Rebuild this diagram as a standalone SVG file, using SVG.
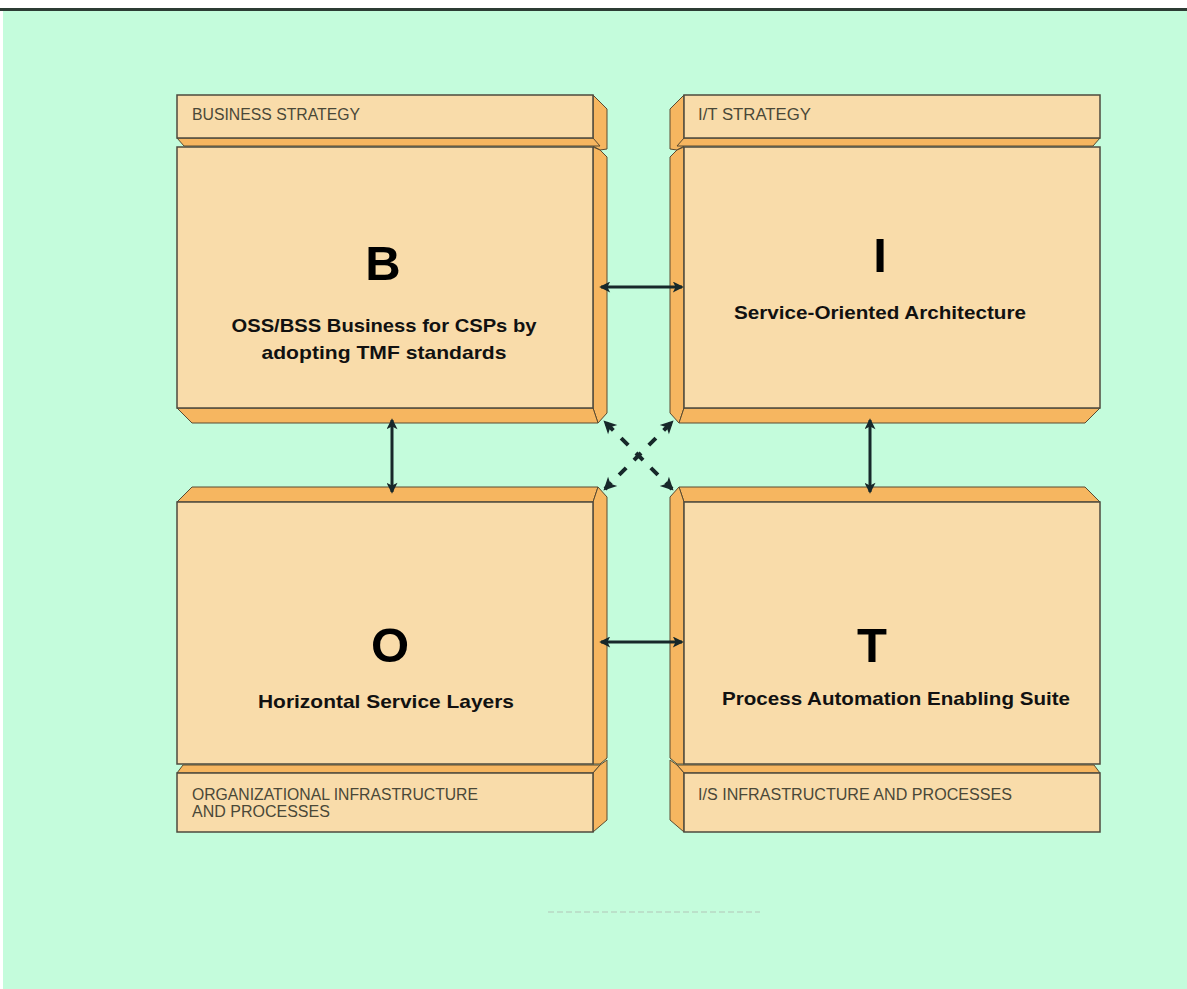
<svg xmlns="http://www.w3.org/2000/svg" width="1187" height="989" viewBox="0 0 1187 989">
<style>
.face{fill:#f9dcaa;stroke:#4d4a3e;stroke-width:1.5}
.side{fill:#f6b660;stroke:#5a4a30;stroke-width:1}
.lbl{font-family:"Liberation Sans",Arial,sans-serif;font-size:16px;fill:#4a4838}
.big{font-family:"Liberation Sans",Arial,sans-serif;font-size:49px;font-weight:bold;fill:#000;text-anchor:middle}
.sub{font-family:"Liberation Sans",Arial,sans-serif;font-size:19px;font-weight:bold;fill:#111;text-anchor:middle}
.arr{stroke:#17282a;stroke-width:3;fill:none;marker-start:url(#ah);marker-end:url(#ah)}
.dash{stroke:#17282a;stroke-width:4;fill:none;stroke-dasharray:10 11;stroke-dashoffset:19.2;marker-start:url(#ah2);marker-end:url(#ah2)}
</style>
<defs>
<marker id="ah" viewBox="0 0 12 12" refX="10" refY="6" markerWidth="12" markerHeight="11" markerUnits="userSpaceOnUse" orient="auto-start-reverse">
<path d="M0,0 L12,6 L0,12 L3,6 z" fill="#17282a"/>
</marker>
<marker id="ah2" viewBox="0 0 12 12" refX="10" refY="6" markerWidth="14" markerHeight="13" markerUnits="userSpaceOnUse" orient="auto-start-reverse">
<path d="M0,0 L12,6 L0,12 L3,6 z" fill="#17282a"/>
</marker>
</defs>
<rect x="0" y="0" width="1187" height="989" fill="#ffffff"/>
<rect x="3" y="10" width="1184" height="979" fill="#c4fcdc"/>
<rect x="0" y="8" width="1187" height="3" fill="#2c3c34"/>
<line x1="548" y1="912" x2="760" y2="912" stroke="#b8d8c4" stroke-width="1.5" stroke-dasharray="6 3"/>

<g id="node-B">
<polygon class="side" points="593,95 607,109 607,149 600,150 593,146"/>
<polygon class="side" points="177,138 593,138 600,146 184,146"/>
<rect class="face" x="177" y="95" width="416" height="43"/>
<polygon class="side" points="593,147 600,150 607,157 607,413 598,423 593,408"/>
<polygon class="side" points="177,408 593,408 598,423 192,423"/>
<rect class="face" x="177" y="147" width="416" height="261"/>
<text class="lbl" x="192" y="120" textLength="168" lengthAdjust="spacingAndGlyphs">BUSINESS STRATEGY</text>
<text class="big" x="383" y="280">B</text>
<text class="sub" x="384" y="332" textLength="305" lengthAdjust="spacingAndGlyphs">OSS/BSS Business for CSPs by</text>
<text class="sub" x="384" y="359" textLength="245" lengthAdjust="spacingAndGlyphs">adopting TMF standards</text>
</g>

<g id="node-I">
<polygon class="side" points="684,95 670,109 670,149 677,150 684,146"/>
<polygon class="side" points="1100,138 684,138 677,146 1093,146"/>
<rect class="face" x="684" y="95" width="416" height="43"/>
<polygon class="side" points="684,147 677,150 670,157 670,413 679,423 684,408"/>
<polygon class="side" points="1100,408 684,408 679,423 1085,423"/>
<rect class="face" x="684" y="147" width="416" height="261"/>
<text class="lbl" x="698" y="120" textLength="113" lengthAdjust="spacingAndGlyphs">I/T STRATEGY</text>
<text class="big" x="880" y="272">I</text>
<text class="sub" x="880" y="319" textLength="292" lengthAdjust="spacingAndGlyphs">Service-Oriented Architecture</text>
</g>

<g id="node-O">
<polygon class="side" points="192,487 598,487 593,502 177,502"/>
<polygon class="side" points="593,502 598,487 607,497 607,758 600,764 593,764"/>
<rect class="face" x="177" y="502" width="416" height="262"/>
<polygon class="side" points="183,765 600,765 593,773 177,773"/>
<polygon class="side" points="593,773 600,765 607,760 607,820 593,832"/>
<rect class="face" x="177" y="773" width="416" height="59"/>
<text class="lbl" x="192" y="800" textLength="286" lengthAdjust="spacingAndGlyphs">ORGANIZATIONAL INFRASTRUCTURE</text>
<text class="lbl" x="192" y="817">AND PROCESSES</text>
<text class="big" x="390" y="662">O</text>
<text class="sub" x="386" y="708" textLength="256" lengthAdjust="spacingAndGlyphs">Horizontal Service Layers</text>
</g>

<g id="node-T">
<polygon class="side" points="1085,487 679,487 684,502 1100,502"/>
<polygon class="side" points="684,502 679,487 670,497 670,758 677,764 684,764"/>
<rect class="face" x="684" y="502" width="416" height="262"/>
<polygon class="side" points="1094,765 677,765 684,773 1100,773"/>
<polygon class="side" points="684,773 677,765 670,760 670,820 684,832"/>
<rect class="face" x="684" y="773" width="416" height="59"/>
<text class="lbl" x="698" y="800" textLength="314" lengthAdjust="spacingAndGlyphs">I/S INFRASTRUCTURE AND PROCESSES</text>
<text class="big" x="872" y="662">T</text>
<text class="sub" x="896" y="705" textLength="348" lengthAdjust="spacingAndGlyphs">Process Automation Enabling Suite</text>
</g>

<g id="connectors">
<line class="arr" x1="601" y1="287" x2="682" y2="287"/>
<line class="arr" x1="601" y1="642" x2="682" y2="642"/>
<line class="arr" x1="392" y1="420" x2="392" y2="492"/>
<line class="arr" x1="870" y1="420" x2="870" y2="492"/>
<line class="dash" x1="605" y1="422" x2="672" y2="489"/>
<line class="dash" x1="672" y1="422" x2="605" y2="489"/>
</g>
</svg>
